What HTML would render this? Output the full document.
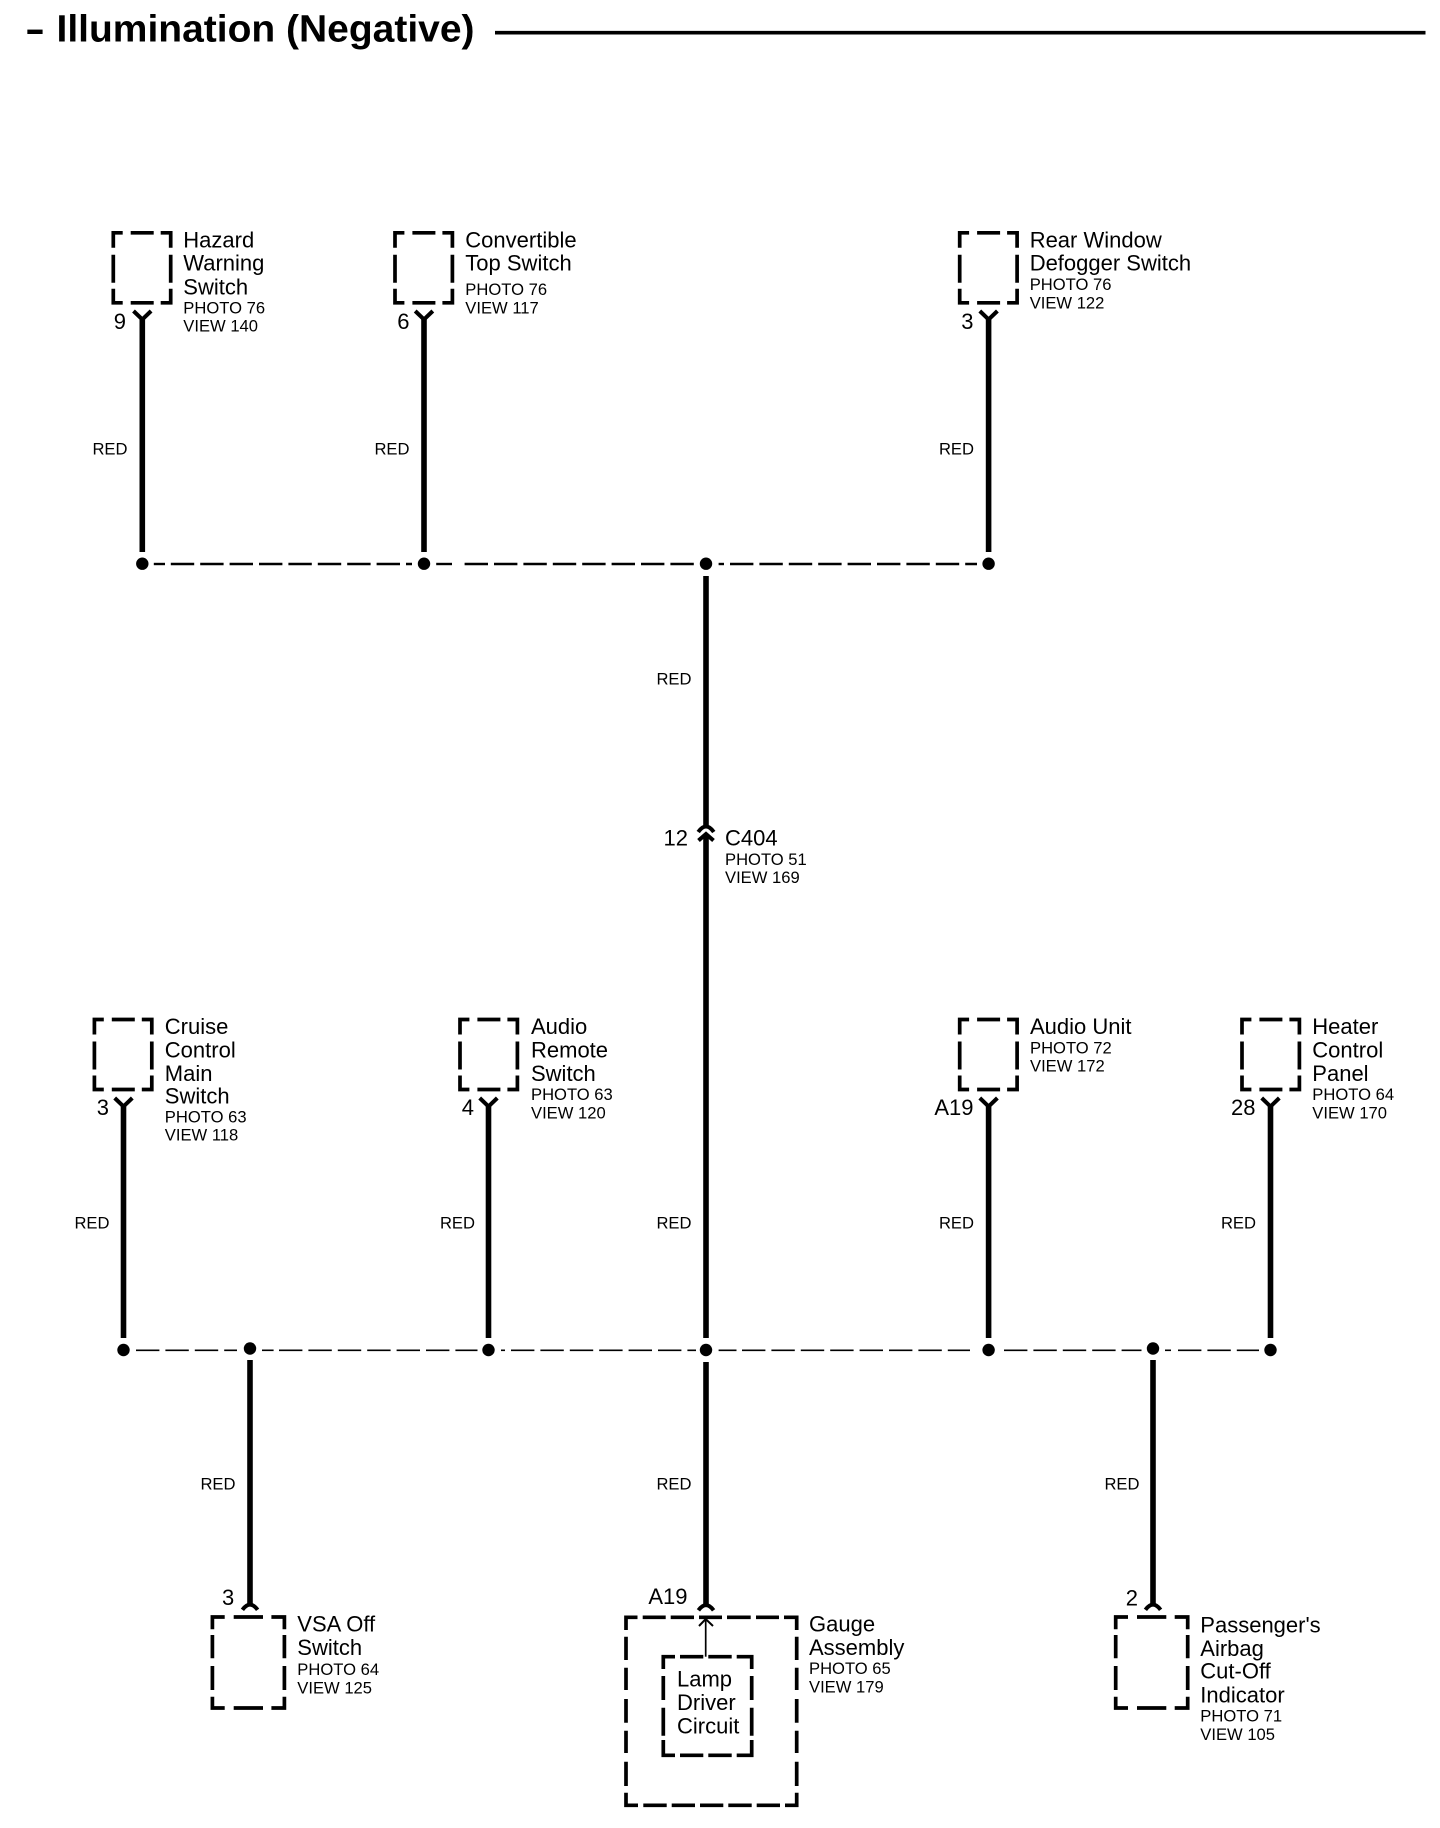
<!DOCTYPE html>
<html lang="en">
<head>
<meta charset="utf-8">
<title>Illumination (Negative)</title>
<style>
html,body{margin:0;padding:0;background:#fff;width:1440px;height:1828px;overflow:hidden}
svg{display:block}
text{font-family:"Liberation Sans",Arial,sans-serif;fill:#000}
.l{font-size:22px}
.s{font-size:16.6px}
.r{font-size:16.6px;text-anchor:end}
.p{font-size:22px;text-anchor:end}
.w{stroke:#000;stroke-width:5.6;fill:none}
.c{stroke:#000;stroke-width:4;fill:none}
.b{stroke:#000;stroke-width:3.7;fill:none}
.t{stroke:#000;stroke-width:2.4;fill:none}
.u{stroke:#000;stroke-width:1.6;fill:none}
.d{stroke-dasharray:23.4 6}
</style>
</head>
<body>
<svg xmlns="http://www.w3.org/2000/svg" width="1440" height="1828" viewBox="0 0 1440 1828">
<defs>
<path id="sb" class="b" d="M0 15V0H9.4M17.4 0H40.4M47.4 0H57.4V15M0 22V50M57.4 22V50M0 56V70H9.4M17.4 70H40.4M47.4 70H57.4V56"/>
<path id="mb" class="b" d="M0 12.3V0H12.3M21.3 0H50.6M59 0H72V12.3M0 18V41.3M72 18V41.3M0 49V73M72 49V73M0 79.7V91H12.3M21.3 91H50.6M59 91H72V79.7"/>
<path id="y" class="c" d="M-8.8 0L0 8.5L8.8 0"/>
<path id="a" class="c" d="M-7.6 7.8Q0 -2.5 7.6 7.8"/>
</defs>

<!-- Title -->
<text x="25" y="41.7" font-size="37" font-weight="bold" textLength="20" lengthAdjust="spacingAndGlyphs">-</text>
<text x="56.5" y="41.7" font-size="38" font-weight="bold" textLength="418" lengthAdjust="spacingAndGlyphs">Illumination (Negative)</text>
<line x1="495" y1="32.7" x2="1425.5" y2="32.7" stroke="#000" stroke-width="3.6"/>

<!-- Top boxes -->
<use href="#sb" x="113.3" y="232.8"/>
<use href="#sb" x="395" y="232.8"/>
<use href="#sb" x="959.7" y="232.8"/>
<use href="#y" x="142.3" y="311"/>
<use href="#y" x="424" y="311"/>
<use href="#y" x="988.6" y="311"/>
<line class="w" x1="142.3" y1="317" x2="142.3" y2="552"/>
<line class="w" x1="424" y1="317" x2="424" y2="552"/>
<line class="w" x1="988.6" y1="317" x2="988.6" y2="552"/>

<text class="l" x="183.3" y="247.3">Hazard</text>
<text class="l" x="183.3" y="270.7">Warning</text>
<text class="l" x="183.3" y="294.3">Switch</text>
<text class="s" x="183.3" y="313.3">PHOTO 76</text>
<text class="s" x="183.3" y="331.7">VIEW 140</text>

<text class="l" x="465.3" y="247.3">Convertible</text>
<text class="l" x="465.3" y="270.7">Top Switch</text>
<text class="s" x="465.3" y="295">PHOTO 76</text>
<text class="s" x="465.3" y="313.3">VIEW 117</text>

<text class="l" x="1029.7" y="247.3">Rear Window</text>
<text class="l" x="1029.7" y="270.3">Defogger Switch</text>
<text class="s" x="1029.7" y="290">PHOTO 76</text>
<text class="s" x="1029.7" y="308.3">VIEW 122</text>

<text class="p" x="126" y="329">9</text>
<text class="p" x="409.5" y="329">6</text>
<text class="p" x="973.5" y="329">3</text>

<text class="r" x="127.5" y="454.6">RED</text>
<text class="r" x="409.5" y="454.6">RED</text>
<text class="r" x="974" y="454.6">RED</text>

<!-- Top bus -->
<line class="t" x1="153.8" y1="564" x2="165" y2="564"/>
<line class="t d" x1="170.8" y1="564" x2="412" y2="564"/>
<line class="t" x1="436.2" y1="564" x2="452" y2="564"/>
<line class="t d" x1="464.6" y1="564" x2="694.7" y2="564"/>
<line class="t" x1="718.6" y1="564" x2="724" y2="564"/>
<line class="t d" x1="730" y1="564" x2="977" y2="564"/>
<circle cx="142.3" cy="563.7" r="6.2"/>
<circle cx="424" cy="563.7" r="6.2"/>
<circle cx="706" cy="563.7" r="6.2"/>
<circle cx="988.6" cy="563.7" r="6.2"/>

<!-- Center wire and C404 -->
<line class="w" x1="706" y1="576" x2="706" y2="825"/>
<path class="c" d="M698.2 832Q706 821 713.8 832"/>
<path class="c" d="M698.5 840.5L706 834L713.5 840.5"/>
<line class="w" x1="706" y1="835" x2="706" y2="1338"/>
<text class="r" x="691.5" y="684.6">RED</text>
<text class="p" x="688" y="845.5">12</text>
<text class="l" x="725" y="845.7">C404</text>
<text class="s" x="725" y="865">PHOTO 51</text>
<text class="s" x="725" y="883">VIEW 169</text>

<!-- Middle boxes -->
<use href="#sb" x="94.4" y="1019.5"/>
<use href="#sb" x="460" y="1019.5"/>
<use href="#sb" x="959.7" y="1019.5"/>
<use href="#sb" x="1242" y="1019.5"/>
<use href="#y" x="123.5" y="1098"/>
<use href="#y" x="488.5" y="1098"/>
<use href="#y" x="988.6" y="1098"/>
<use href="#y" x="1270.5" y="1098"/>
<line class="w" x1="123.5" y1="1104" x2="123.5" y2="1338"/>
<line class="w" x1="488.5" y1="1104" x2="488.5" y2="1338"/>
<line class="w" x1="988.6" y1="1104" x2="988.6" y2="1338"/>
<line class="w" x1="1270.5" y1="1104" x2="1270.5" y2="1338"/>

<text class="l" x="164.8" y="1034">Cruise</text>
<text class="l" x="164.8" y="1057.3">Control</text>
<text class="l" x="164.8" y="1081">Main</text>
<text class="l" x="164.8" y="1103.5">Switch</text>
<text class="s" x="164.8" y="1122.7">PHOTO 63</text>
<text class="s" x="164.8" y="1140.7">VIEW 118</text>

<text class="l" x="531" y="1034">Audio</text>
<text class="l" x="531" y="1057.3">Remote</text>
<text class="l" x="531" y="1081">Switch</text>
<text class="s" x="531" y="1100">PHOTO 63</text>
<text class="s" x="531" y="1118.3">VIEW 120</text>

<text class="l" x="1030" y="1034">Audio Unit</text>
<text class="s" x="1030" y="1053.3">PHOTO 72</text>
<text class="s" x="1030" y="1071.7">VIEW 172</text>

<text class="l" x="1312.3" y="1034">Heater</text>
<text class="l" x="1312.3" y="1057.3">Control</text>
<text class="l" x="1312.3" y="1081">Panel</text>
<text class="s" x="1312.3" y="1100">PHOTO 64</text>
<text class="s" x="1312.3" y="1118.3">VIEW 170</text>

<text class="p" x="109" y="1115">3</text>
<text class="p" x="474" y="1115">4</text>
<text class="p" x="973.5" y="1115">A19</text>
<text class="p" x="1255.5" y="1115">28</text>

<text class="r" x="109.5" y="1228.6">RED</text>
<text class="r" x="475" y="1228.6">RED</text>
<text class="r" x="691.5" y="1228.6">RED</text>
<text class="r" x="974" y="1228.6">RED</text>
<text class="r" x="1256" y="1228.6">RED</text>

<!-- Lower bus -->
<line class="u d" x1="136" y1="1350.3" x2="237" y2="1350.3"/>
<line class="u" x1="262" y1="1350.3" x2="273.6" y2="1350.3"/>
<line class="u d" x1="279" y1="1350.3" x2="477.5" y2="1350.3"/>
<line class="u" x1="501" y1="1350.3" x2="505" y2="1350.3"/>
<line class="u d" x1="511" y1="1350.3" x2="696" y2="1350.3"/>
<line class="u" x1="718.6" y1="1350.3" x2="736.5" y2="1350.3"/>
<line class="u d" x1="742" y1="1350.3" x2="970" y2="1350.3"/>
<line class="u d" x1="1004" y1="1350.3" x2="1141.5" y2="1350.3"/>
<line class="u" x1="1165" y1="1350.3" x2="1171" y2="1350.3"/>
<line class="u d" x1="1178" y1="1350.3" x2="1259" y2="1350.3"/>
<circle cx="123.5" cy="1350" r="6.2"/>
<circle cx="250" cy="1348.5" r="6.2"/>
<circle cx="488.5" cy="1350" r="6.2"/>
<circle cx="706" cy="1350" r="6.2"/>
<circle cx="988.6" cy="1350" r="6.2"/>
<circle cx="1153" cy="1348.5" r="6.2"/>
<circle cx="1270.5" cy="1350" r="6.2"/>

<!-- Lower wires -->
<line class="w" x1="250" y1="1360" x2="250" y2="1605"/>
<line class="w" x1="706" y1="1362" x2="706" y2="1605"/>
<line class="w" x1="1153" y1="1360" x2="1153" y2="1605"/>
<use href="#a" x="250" y="1602"/>
<use href="#a" x="706" y="1602.5"/>
<use href="#a" x="1153" y="1602"/>
<text class="r" x="235.5" y="1489.6">RED</text>
<text class="r" x="691.5" y="1489.6">RED</text>
<text class="r" x="1139.5" y="1489.6">RED</text>

<!-- VSA -->
<use href="#mb" x="212.4" y="1617"/>
<text class="p" x="234.3" y="1605">3</text>
<text class="l" x="297.3" y="1631.7">VSA Off</text>
<text class="l" x="297.3" y="1655">Switch</text>
<text class="s" x="297.3" y="1675">PHOTO 64</text>
<text class="s" x="297.3" y="1693.3">VIEW 125</text>

<!-- Gauge -->
<path class="b" d="M626 1630V1617.3H637.5M642.7 1617.3H665.7M670.7 1617.3H694M699 1617.3H722M727 1617.3H750.7M756 1617.3H779M784 1617.3H796.7V1630M626 1636.7V1660M626 1667.7V1690M626 1699V1722.7M626 1730.7V1753M626 1761.7V1786M626 1792.7V1805.3H638M643.3 1805.3H666.7M671.7 1805.3H695M700 1805.3H723.3M728.3 1805.3H751.7M756.7 1805.3H780M785 1805.3H796.7V1792.7M796.7 1636.7V1660M796.7 1667.7V1690M796.7 1699V1722.7M796.7 1730.7V1753M796.7 1761.7V1786"/>
<path class="b" d="M663.3 1669V1656.7H675M680 1656.7H703.3M708.3 1656.7H731.7M736.7 1656.7H751.7V1669M663.3 1676V1700M663.3 1707.7V1735.7M663.3 1740V1755.3H675M680 1755.3H703.3M708.3 1755.3H731.7M736.7 1755.3H751.7V1740M751.7 1676V1700M751.7 1707.7V1735.7"/>
<line x1="705.7" y1="1656.7" x2="705.7" y2="1620" stroke="#000" stroke-width="1.7"/>
<path d="M699 1626L705.7 1619L713 1626" stroke="#000" stroke-width="2" fill="none"/>
<text class="p" x="687.5" y="1604">A19</text>
<text class="l" x="677" y="1686.7">Lamp</text>
<text class="l" x="677" y="1710">Driver</text>
<text class="l" x="677" y="1733.3">Circuit</text>
<text class="l" x="809" y="1631.7">Gauge</text>
<text class="l" x="809" y="1655">Assembly</text>
<text class="s" x="809" y="1674">PHOTO 65</text>
<text class="s" x="809" y="1692.7">VIEW 179</text>

<!-- Passenger -->
<use href="#mb" x="1115.7" y="1617"/>
<text class="p" x="1138" y="1605.7">2</text>
<text class="l" x="1200.3" y="1632.7">Passenger's</text>
<text class="l" x="1200.3" y="1656">Airbag</text>
<text class="l" x="1200.3" y="1678.3">Cut-Off</text>
<text class="l" x="1200.3" y="1702.7">Indicator</text>
<text class="s" x="1200.3" y="1721.7">PHOTO 71</text>
<text class="s" x="1200.3" y="1740">VIEW 105</text>
</svg>
</body>
</html>
